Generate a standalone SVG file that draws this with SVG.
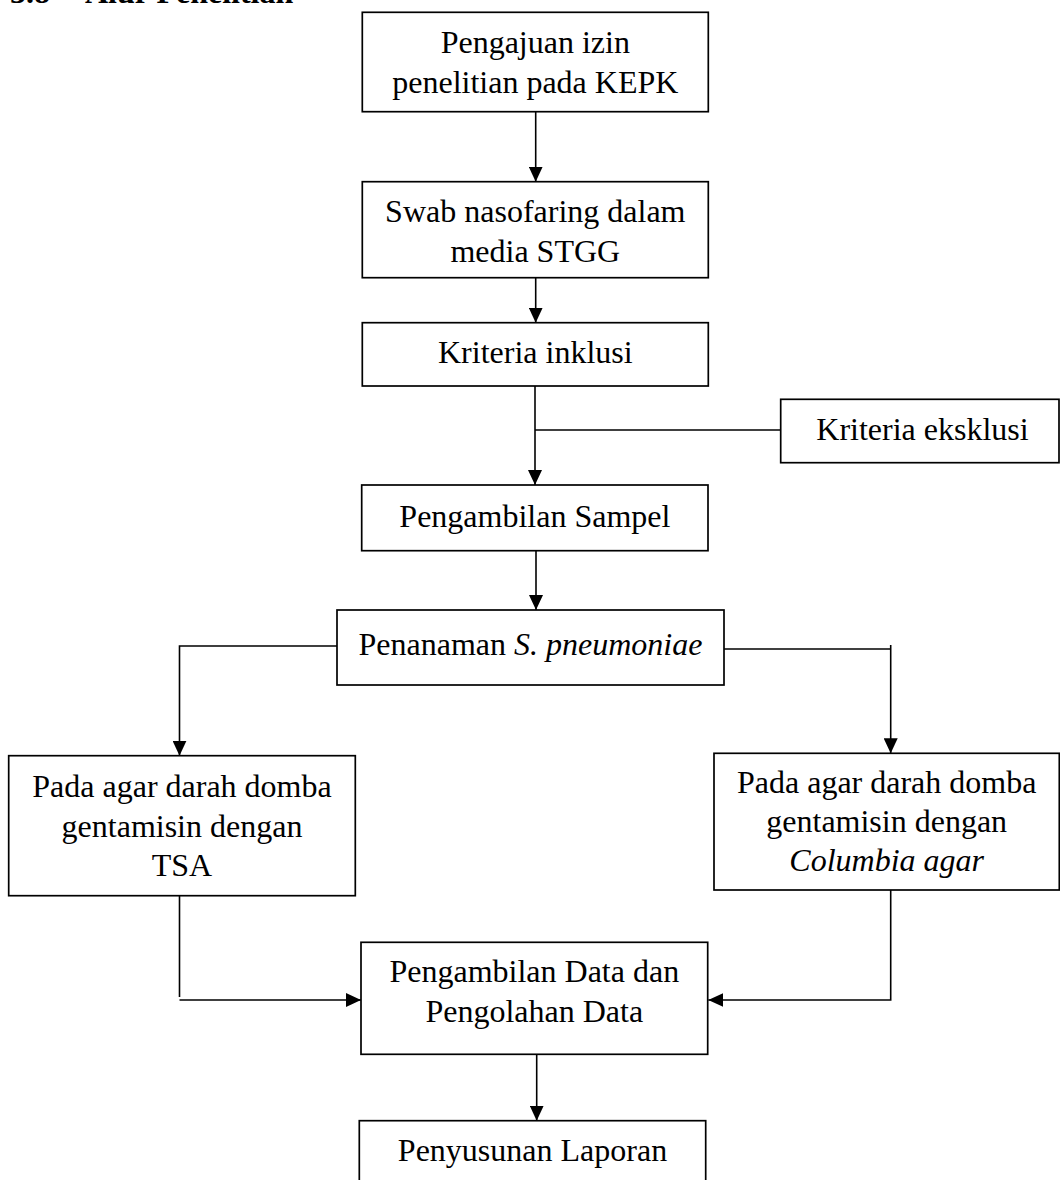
<svg xmlns="http://www.w3.org/2000/svg" width="1060" height="1180" viewBox="0 0 1060 1180">
<style>
.box{fill:#fff;stroke:#000;stroke-width:1.7}
.t{font-family:"Liberation Serif","Times New Roman",serif;font-size:32px;fill:#000;text-anchor:middle}
.h{font-family:"Liberation Serif","Times New Roman",serif;font-size:32px;font-weight:bold;fill:#000}
.ln{fill:none;stroke:#000;stroke-width:1.6}
.i{font-style:italic}
</style>
<defs>
<marker id="arr" viewBox="0 0 15 14" refX="15" refY="7" markerWidth="15" markerHeight="14" orient="auto" markerUnits="userSpaceOnUse">
<path d="M0,0 L15,7 L0,14 Z" fill="#000"/>
</marker>
</defs>
<rect width="1060" height="1180" fill="#fff"/>
<text class="h" x="10" y="2.5">3.8</text>
<text class="h" x="85" y="2.5">Alur Penelitian</text>
<g id="connectors">
<path class="ln" d="M535.7 111.7 V181.7" marker-end="url(#arr)"/>
<path class="ln" d="M535.7 277.7 V322.7" marker-end="url(#arr)"/>
<path class="ln" d="M535 386 V485" marker-end="url(#arr)"/>
<path class="ln" d="M535 430 H780.7"/>
<path class="ln" d="M536 550.7 V610" marker-end="url(#arr)"/>
<path class="ln" d="M337 646 H179.5 V755.7" marker-end="url(#arr)"/>
<path class="ln" d="M723.5 649 H890.7"/>
<path class="ln" d="M890.7 645 V753.3" marker-end="url(#arr)"/>
<path class="ln" d="M179.5 892 V997"/>
<path class="ln" d="M179.5 1000 H361" marker-end="url(#arr)"/>
<path class="ln" d="M890.7 890 V1000 H708.3" marker-end="url(#arr)"/>
<path class="ln" d="M536.7 1054.3 V1120.7" marker-end="url(#arr)"/>
</g>
<g id="n1">
<rect class="box" x="362.3" y="12.3" width="346" height="99.4"/>
<text class="t" x="535.3" y="53.3">Pengajuan izin</text>
<text class="t" x="535.3" y="92.7">penelitian pada KEPK</text>
</g>
<g id="n2">
<rect class="box" x="362.3" y="181.7" width="346" height="96"/>
<text class="t" x="535.3" y="222.3">Swab nasofaring dalam</text>
<text class="t" x="535.3" y="262.3">media STGG</text>
</g>
<g id="n3">
<rect class="box" x="362.3" y="322.7" width="346" height="63.3"/>
<text class="t" x="535.3" y="362.7">Kriteria inklusi</text>
</g>
<g id="n_excl">
<rect class="box" x="780.7" y="399.3" width="278.3" height="63.4"/>
<text class="t" x="922.5" y="440">Kriteria eksklusi</text>
</g>
<g id="n4">
<rect class="box" x="361.7" y="485" width="346.3" height="65.7"/>
<text class="t" x="534.9" y="527.3">Pengambilan Sampel</text>
</g>
<g id="n5">
<rect class="box" x="337" y="610" width="387" height="75"/>
<text class="t" x="530.5" y="655">Penanaman <tspan class="i">S. pneumoniae</tspan></text>
</g>
<g id="n6">
<rect class="box" x="8.7" y="755.7" width="346.6" height="140"/>
<text class="t" x="182" y="797">Pada agar darah domba</text>
<text class="t" x="182" y="836.5">gentamisin dengan</text>
<text class="t" x="182" y="876">TSA</text>
</g>
<g id="n7">
<rect class="box" x="714" y="753.3" width="345.3" height="136.7"/>
<text class="t" x="886.7" y="793.3">Pada agar darah domba</text>
<text class="t" x="886.7" y="832.3">gentamisin dengan</text>
<text class="t i" x="886.7" y="870.7">Columbia agar</text>
</g>
<g id="n8">
<rect class="box" x="361" y="942.3" width="346.7" height="112"/>
<text class="t" x="534.3" y="981.7">Pengambilan Data dan</text>
<text class="t" x="534.3" y="1021.7">Pengolahan Data</text>
</g>
<g id="n9">
<rect class="box" x="359.3" y="1120.7" width="346.4" height="100"/>
<text class="t" x="532.5" y="1161">Penyusunan Laporan</text>
</g>
</svg>
